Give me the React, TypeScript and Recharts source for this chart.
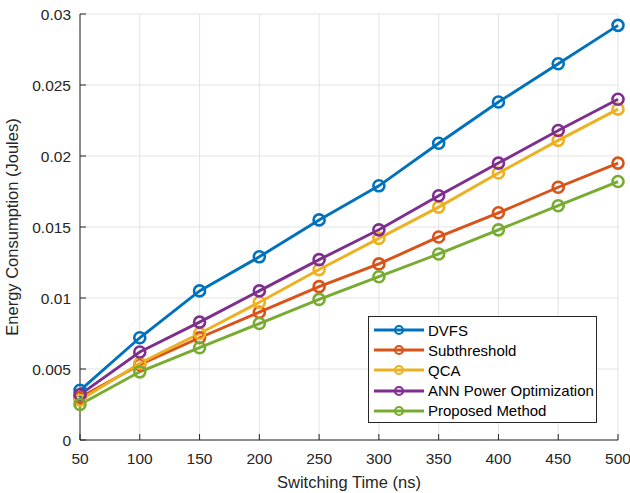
import React from 'react';
import { LineChart, Line, XAxis, YAxis, CartesianGrid, Legend } from 'recharts';

const switchingTimes = [50, 100, 150, 200, 250, 300, 350, 400, 450, 500];
const dvfs = [0.0035, 0.0072, 0.0105, 0.0129, 0.0155, 0.0179, 0.0209, 0.0238, 0.0265, 0.0292];
const subthreshold = [0.003, 0.0053, 0.0072, 0.009, 0.0108, 0.0124, 0.0143, 0.016, 0.0178, 0.0195];
const qca = [0.0028, 0.0054, 0.0075, 0.0097, 0.012, 0.0142, 0.0164, 0.0188, 0.0211, 0.0233];
const ann = [0.0032, 0.0062, 0.0083, 0.0105, 0.0127, 0.0148, 0.0172, 0.0195, 0.0218, 0.024];
const proposed = [0.0025, 0.0048, 0.0065, 0.0082, 0.0099, 0.0115, 0.0131, 0.0148, 0.0165, 0.0182];

const xTicks = [50, 100, 150, 200, 250, 300, 350, 400, 450, 500];
const yTicks = [0, 0.005, 0.01, 0.015, 0.02, 0.025, 0.03];

const series = [
  { key: 'dvfs', name: 'DVFS', color: '#0072BD', values: dvfs },
  { key: 'sub', name: 'Subthreshold', color: '#D95319', values: subthreshold },
  { key: 'qca', name: 'QCA', color: '#EDB120', values: qca },
  { key: 'ann', name: 'ANN Power Optimization', color: '#7E2F8E', values: ann },
  { key: 'prop', name: 'Proposed Method', color: '#77AC30', values: proposed },
];

const data = switchingTimes.map((t, i) => {
  const row: Record<string, number> = { t };
  series.forEach(s => { row[s.key] = s.values[i]; });
  return row;
});

const AXIS = '#262626';
const FONT = '"Liberation Sans", Arial, sans-serif';

function BottomTick({ x, y, payload }: any) {
  return (
    <g>
      <line x1={x} y1={y} x2={x} y2={y - 6} stroke={AXIS} strokeWidth={1} />
      <text x={x} y={y + 24} textAnchor="middle" fontSize={15.5} fill={AXIS} fontFamily={FONT}>
        {payload.value}
      </text>
    </g>
  );
}

function TopTick({ x, y }: any) {
  return <line x1={x} y1={y} x2={x} y2={y + 6} stroke={AXIS} strokeWidth={1} />;
}

function LeftTick({ x, y, payload }: any) {
  return (
    <g>
      <line x1={x} y1={y} x2={x + 6} y2={y} stroke={AXIS} strokeWidth={1} />
      <text x={x - 9} y={y + 6} textAnchor="end" fontSize={15.5} fill={AXIS} fontFamily={FONT}>
        {payload.value}
      </text>
    </g>
  );
}

function RightTick({ x, y }: any) {
  return <line x1={x} y1={y} x2={x - 6} y2={y} stroke={AXIS} strokeWidth={1} />;
}

function LegendBox() {
  return (
    <div
      style={{
        border: '1px solid #262626',
        background: '#fff',
        width: 229,
        height: 107,
        padding: '3px 0',
        boxSizing: 'border-box',
        fontFamily: FONT,
        fontSize: 15,
        color: '#000',
      }}
    >
      {series.map(s => (
        <div key={s.key} style={{ display: 'flex', alignItems: 'center', height: 20.2 }}>
          <svg width={58} height={14} style={{ flex: 'none' }}>
            <line x1={5} y1={7} x2={55} y2={7} stroke={s.color} strokeWidth={2.8} />
            <circle cx={30} cy={7} r={4} fill="none" stroke={s.color} strokeWidth={2.2} />
          </svg>
          <span style={{ marginLeft: 1 }}>{s.name}</span>
        </div>
      ))}
    </div>
  );
}

export default function App() {
  return (
    <div style={{ position: 'absolute', left: 0, top: 0, width: 630, height: 493, background: '#fff' }}>
      <LineChart width={630} height={493} data={data} margin={{ top: 14, right: 12, bottom: 0, left: 0 }}>
        <CartesianGrid stroke="#e3e3e3" strokeWidth={1} />
        <XAxis
          dataKey="t"
          type="number"
          domain={[50, 500]}
          ticks={xTicks}
          tickSize={0}
          tickMargin={0}
          tick={<BottomTick />}
          stroke={AXIS}
          height={53}
          label={{ value: 'Switching Time (ns)', position: 'insideBottom', offset: 5, fontSize: 16.5, fill: AXIS, fontFamily: FONT }}
        />
        <XAxis
          xAxisId="top"
          orientation="top"
          dataKey="t"
          type="number"
          domain={[50, 500]}
          ticks={xTicks}
          tickSize={0}
          tickMargin={0}
          tick={<TopTick />}
          stroke={AXIS}
          height={0}
        />
        <YAxis
          type="number"
          domain={[0, 0.03]}
          ticks={yTicks}
          tickSize={0}
          tickMargin={0}
          tick={<LeftTick />}
          stroke={AXIS}
          width={80}
          label={{ value: 'Energy Consumption (Joules)', angle: -90, position: 'insideLeft', offset: 12, fontSize: 16.5, fill: AXIS, fontFamily: FONT, style: { textAnchor: 'middle' } }}
        />
        <YAxis
          yAxisId="right"
          orientation="right"
          type="number"
          domain={[0, 0.03]}
          ticks={yTicks}
          tickSize={0}
          tickMargin={0}
          tick={<RightTick />}
          stroke={AXIS}
          width={0}
        />
        <Legend
          layout="vertical"
          align="center"
          verticalAlign="middle"
          content={<LegendBox />}
          wrapperStyle={{ left: 368, top: 316, width: 229 }}
        />
        {series.map(s => (
          <Line
            key={s.key}
            dataKey={s.key}
            name={s.name}
            stroke={s.color}
            strokeWidth={2.9}
            dot={{ r: 5.5, fill: 'none', stroke: s.color, strokeWidth: 2.6 }}
            activeDot={false}
            isAnimationActive={false}
          />
        ))}
      </LineChart>
    </div>
  );
}
